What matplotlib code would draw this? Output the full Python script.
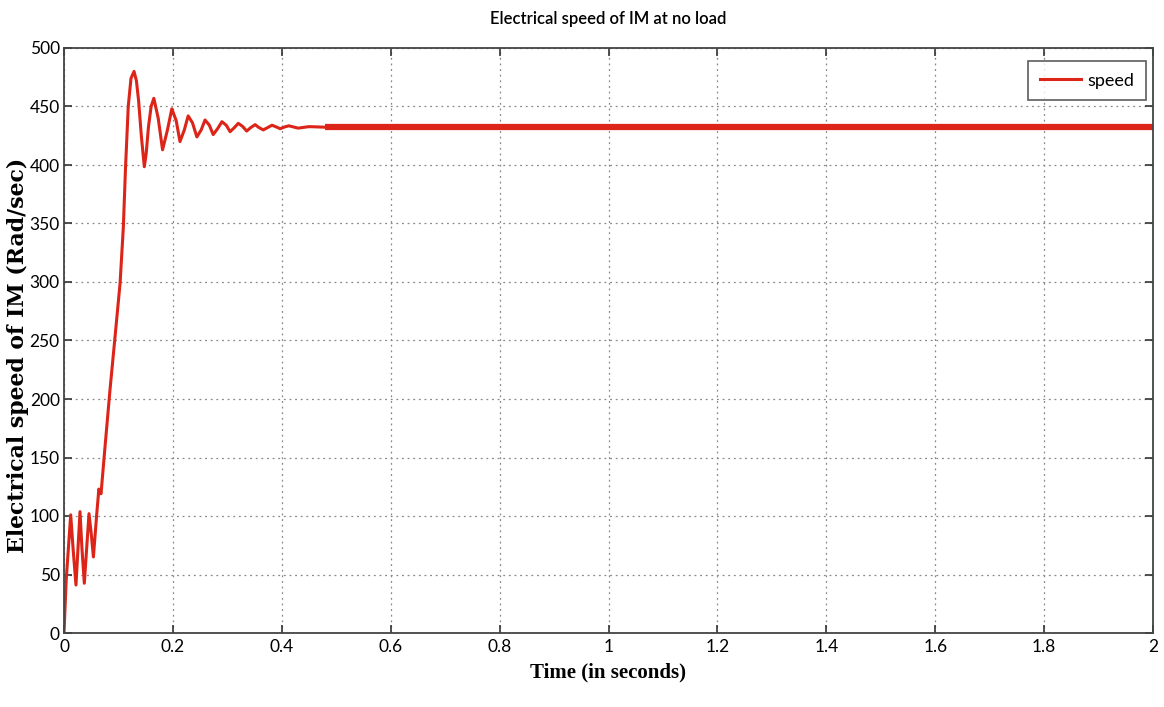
import matplotlib
matplotlib.use("Agg")
import matplotlib.pyplot as plt

# Data
time_s = [0, 0.004, 0.0123, 0.017, 0.022, 0.026, 0.0294, 0.033, 0.0373, 0.042, 0.0459,
          0.050, 0.054, 0.060, 0.064, 0.068, 0.0753, 0.0845, 0.0937, 0.103, 0.109,
          0.113, 0.118, 0.123, 0.1286, 0.133, 0.137, 0.142, 0.1475, 0.151, 0.155,
          0.160, 0.165, 0.173, 0.181, 0.190, 0.198, 0.206, 0.213, 0.221, 0.228,
          0.236, 0.244, 0.252, 0.259, 0.267, 0.274, 0.282, 0.290, 0.298, 0.305,
          0.313, 0.320, 0.328, 0.3355, 0.343, 0.351, 0.358, 0.366, 0.374, 0.382,
          0.390, 0.397, 0.405, 0.413, 0.430, 0.450, 0.480]
speed = [0, 45, 101, 70, 41, 75, 103.7, 72, 42.5, 75, 102,
         85, 65, 101, 123, 119, 159, 208, 253, 299, 347,
         398, 450, 474, 480, 472, 455, 425, 398.5, 410, 432,
         450, 457, 440, 413, 430, 448, 438, 420, 430, 442,
         436, 424, 430, 438.5, 434, 426, 431, 437, 434, 428.5,
         432, 435.6, 433, 429, 432, 434.5, 432, 430, 432, 434,
         432.5, 431, 432.5, 433.5, 431.5, 432.8, 432.3]
steady_time = [0.48, 2.0]
steady_speed = [432.3, 432.3]

x_ticks = [0, 0.2, 0.4, 0.6, 0.8, 1.0, 1.2, 1.4, 1.6, 1.8, 2.0]
x_tick_labels = ["0", "0.2", "0.4", "0.6", "0.8", "1", "1.2", "1.4", "1.6", "1.8", "2"]
y_ticks = list(range(0, 501, 50))

narrow = ["Lato", "DejaVu Sans"]
serif = ["Liberation Serif", "DejaVu Serif"]
wide_serif = ["DejaVu Serif"]

fig = plt.figure(figsize=(11.64, 7.07), dpi=100)
ax = fig.add_axes([64 / 1164, 74 / 707, 1089 / 1164, 585 / 707])

line_color = "#dc2418"
ax.plot(time_s, speed, color=line_color, lw=2.2, label="speed", solid_joinstyle="round")
ax.plot(steady_time, steady_speed, color=line_color, lw=4.5, solid_capstyle="butt")

ax.set_xlim(0, 2)
ax.set_ylim(0, 500)
ax.set_xticks(x_ticks)
ax.set_xticklabels(x_tick_labels)
ax.set_yticks(y_ticks)
for lab in ax.get_xticklabels() + ax.get_yticklabels():
    lab.set_family(narrow)
    lab.set_fontsize(12.5)

ax.tick_params(direction="in", top=True, right=True, length=6, width=1.2, colors="#333333",
               labelcolor="black", pad=4)
ax.tick_params(axis="y", pad=3)
ax.grid(True, linestyle=(0, (1.5, 3)), color="#888888", linewidth=0.9)
for sp in ax.spines.values():
    sp.set_color("#444444")
    sp.set_linewidth(1.3)

ax.set_title("Electrical speed of IM at no load", family=narrow, fontsize=12,
             fontweight="semibold", pad=17)
ax.set_xlabel("Time (in seconds)", family=serif, fontweight="bold", fontsize=15, labelpad=6)
ax.set_ylabel("Electrical speed of IM (Rad/sec)", family=wide_serif, fontweight="bold",
              fontsize=15.8, labelpad=4)
ax.yaxis.set_label_coords(-35 / 1089, 0.5 - 15 / 585)

leg = ax.legend(loc="upper right", bbox_to_anchor=((1146 - 64) / 1089, (633 - 61) / 585),
                prop={"family": narrow, "size": 13},
                frameon=True, fancybox=False, edgecolor="#333333", borderpad=0.65,
                handlelength=2.3, handletextpad=0.35, borderaxespad=0)
leg.get_frame().set_linewidth(1.2)

fig.savefig("out.png", dpi=100)
